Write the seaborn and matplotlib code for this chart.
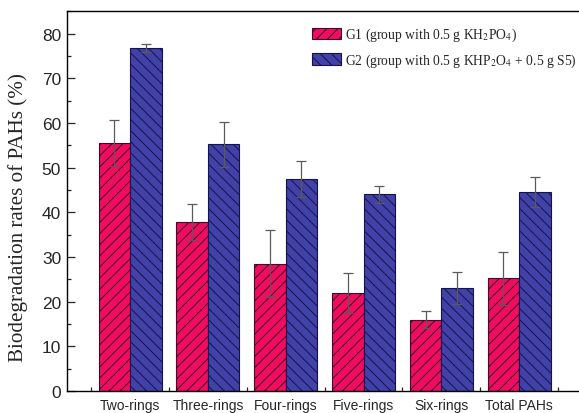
import matplotlib
matplotlib.use("Agg")
import matplotlib.pyplot as plt
from matplotlib.patches import Patch
from matplotlib.ticker import MultipleLocator, FixedLocator
import seaborn as sns
import pandas as pd
import numpy as np

categories = ["Two-rings", "Three-rings", "Four-rings", "Five-rings", "Six-rings", "Total PAHs"]
g1_values = [55.5, 37.8, 28.5, 22.0, 16.0, 25.2]
g1_errors = [5.2, 4.0, 7.5, 4.5, 1.9, 5.9]
g2_values = [76.8, 55.2, 47.5, 44.0, 23.0, 44.5]
g2_errors = [0.8, 5.0, 4.0, 2.0, 3.6, 3.3]
groups = ["G1", "G2"]
legend_labels = [
    r"G1 (group with 0.5 g KH$_2$PO$_4$)",
    r"G2 (group with 0.5 g KHP$_2$O$_4$ + 0.5 g S5)",
]

df = pd.DataFrame({
    "category": categories * 2,
    "group": [groups[0]] * len(categories) + [groups[1]] * len(categories),
    "value": g1_values + g2_values,
})

sns.set_style("ticks")
plt.rcParams["font.family"] = ["Liberation Sans", "DejaVu Sans"]
plt.rcParams["mathtext.fontset"] = "stix"
plt.rcParams["hatch.linewidth"] = 0.7

fill_colors = {"G1": "#F00C5E", "G2": "#4141A8"}
edge_colors = {"G1": "#3a0a2a", "G2": "#14144a"}
hatches = {"G1": "///", "G2": "\\\\\\"}

W, H = 579, 414
fig = plt.figure(figsize=(W / 100, H / 100), dpi=100)
left_px, right_px, top_px, bottom_px = 66.7, 586.0, 12.3, 392.0
ax = fig.add_axes([left_px / W, (H - bottom_px) / H,
                   (right_px - left_px) / W, (bottom_px - top_px) / H])

sns.barplot(data=df, x="category", y="value", hue="group", order=categories,
            hue_order=groups, palette=fill_colors, width=0.81, ax=ax,
            errorbar=None, legend=False, saturation=1)

errs = {"G1": g1_errors, "G2": g2_errors}
for container, g in zip(ax.containers, groups):
    xs, ys = [], []
    for bar in container:
        bar.set_hatch(hatches[g])
        bar.set_edgecolor(edge_colors[g])
        bar.set_linewidth(0.8)
        xs.append(bar.get_x() + bar.get_width() / 2)
        ys.append(bar.get_height())
    ax.errorbar(xs, ys, yerr=errs[g], fmt="none", ecolor="#5a5a5a",
                elinewidth=0.9, capsize=3.5, capthick=0.9, zorder=5)

ax.set_xlim(-0.816, 5.86)
ax.set_ylim(0, 85)
ax.yaxis.set_major_locator(MultipleLocator(10))
ax.yaxis.set_minor_locator(MultipleLocator(5))
ax.xaxis.set_minor_locator(FixedLocator(np.arange(-0.5, 6, 1)))
ax.tick_params(axis="y", which="major", direction="in", length=6, width=0.9,
               labelsize=12.5, pad=4)
ax.tick_params(axis="y", which="minor", direction="in", length=3, width=0.9)
ax.tick_params(axis="x", which="major", length=0, labelsize=10, pad=5)
ax.tick_params(axis="x", which="minor", direction="in", length=3, width=0.9)
for s in ax.spines.values():
    s.set_visible(True)
    s.set_linewidth(1.0)
    s.set_color("black")

ax.set_xlabel("")
ax.set_ylabel("Biodegradation rates of PAHs (%)", fontfamily="Liberation Serif",
              fontsize=15.2)
ax.yaxis.set_label_coords(-(left_px - 28) / (right_px - left_px),
                          (bottom_px - 218) / (bottom_px - top_px))

handles = [Patch(facecolor=fill_colors[g], edgecolor=edge_colors[g],
                 hatch=hatches[g], linewidth=0.8) for g in groups]
fig.legend(handles, legend_labels, loc="upper left", frameon=False,
           prop={"family": "Liberation Serif", "size": 9.8},
           handlelength=2.15, handleheight=0.95, handletextpad=0.25,
           labelspacing=0.6, borderpad=0, borderaxespad=0,
           bbox_to_anchor=(312 / W, (H - 27) / H))

fig.savefig("out.png", dpi=100)
